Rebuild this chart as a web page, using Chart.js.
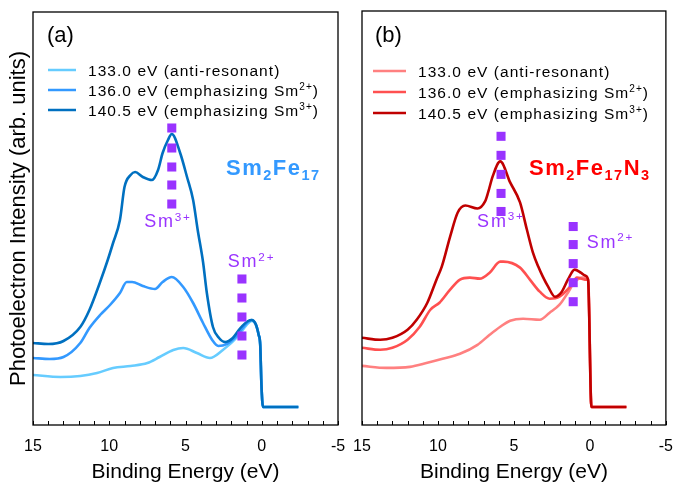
<!DOCTYPE html>
<html>
<head>
<meta charset="utf-8">
<script src="https://cdn.jsdelivr.net/npm/chart.js@4"></script>
<style>
  html, body { margin: 0; padding: 0; background: #fff; }
  #wrap { position: relative; width: 674px; height: 486px; overflow: hidden; }
  canvas { position: absolute; left: 0; top: 0; }
</style>
</head>
<body>
<div id="wrap">
  <canvas id="chartA" width="674" height="486"></canvas>
  <canvas id="chartB" width="685" height="486"></canvas>
</div>
<script>
// x tick labels (binding energy, eV)
const xTickLabels = [15, 10, 5, 0, -5];

// (a) Sm2Fe17 - binding energy (eV) / intensity (arb. units)
const aLightE = [15, 13.2, 11.9, 10.8, 9.75, 8.6, 7.5, 6.7, 5.8, 5.15, 4.25, 3.4, 2.55, 1.6, 1.0, 0.66, 0.4, 0.2, 0.1, 0.02, -0.08, -2.4];
const aLightI = [50, 48, 49, 52, 57, 59, 62, 68, 75, 77, 72, 67, 75, 88, 100, 104, 101, 90, 80, 40, 18, 18];
const aMedE = [15, 13.9, 13, 11.9, 11.3, 10.6, 9.95, 9.3, 8.85, 8.5, 7.8, 7.0, 6.5, 5.9, 5.15, 4.5, 3.85, 3.25, 2.85, 2.3, 1.6, 1.1, 0.66, 0.4, 0.2, 0.1, 0.02, -0.08, -2.4];
const aMedI = [67, 66, 68, 82, 97, 110, 120, 132, 143, 143, 139, 136, 143, 148, 138, 122, 102, 85, 79, 81, 90, 100, 105, 101, 90, 80, 40, 18, 18];
const aDarkE = [15, 14, 13, 11.9, 11.3, 10.6, 10.1, 9.75, 9.3, 9.0, 8.6, 8.3, 7.8, 7.2, 6.8, 6.5, 6.15, 5.9, 5.35, 4.9, 4.5, 4.2, 3.85, 3.6, 3.2, 2.8, 2.4, 1.9, 1.4, 0.9, 0.66, 0.4, 0.2, 0.1, 0.02, -0.08, -2.4];
const aDarkI = [82, 81, 84, 98, 115, 143, 165, 182, 205, 238, 250, 253, 248, 245, 255, 272, 285, 291, 272, 248, 225, 195, 163, 132, 98, 87, 83, 87, 97, 104, 105, 101, 90, 80, 40, 18, 18];
const aSm3E = 5.9;
const aSm3I = [297, 277, 258, 240, 221];
const aSm2E = 1.3;
const aSm2I = [146, 127, 108, 89, 70];

// (b) Sm2Fe17N3
const bLightE = [15, 13.4, 11.85, 10.7, 9.7, 8.55, 7.4, 6.6, 5.9, 5.25, 4.4, 3.3, 2.65, 2.0, 1.45, 1.0, 0.5, 0.12, -0.1, -2.4];
const bLightI = [59, 57, 58, 62, 66, 71, 80, 90, 98, 104, 106, 105, 112, 120, 132, 143, 147, 145, 18, 18];
const bMedE = [15, 13.8, 13, 12, 11.2, 10.5, 9.9, 9.2, 8.55, 7.9, 7.25, 6.6, 5.9, 5.7, 4.6, 3.95, 3.3, 2.65, 2.0, 1.3, 0.85, 0.33, 0.12, -0.1, -2.4];
const bMedI = [77, 75, 77, 85, 98, 115, 122, 135, 145, 147, 146, 152, 163, 163, 157, 145, 133, 126, 128, 138, 147, 145, 145, 18, 18];
const bDarkE = [15, 13.8, 13, 12, 11.4, 10.7, 10.1, 9.75, 9.2, 8.7, 8.2, 7.4, 6.9, 6.7, 6.4, 5.9, 5.25, 4.6, 4.15, 3.75, 3.4, 3.1, 2.75, 2.3, 1.85, 1.45, 1.0, 0.6, 0.3, 0.12, -0.1, -2.4];
const bDarkI = [87, 85, 87, 95, 105, 122, 145, 158, 188, 212, 219, 216, 223, 232, 248, 263, 242, 222, 195, 172, 158, 148, 138, 128, 133, 145, 155, 152, 149, 145, 18, 18];
const bSm3E = 5.85;
const bSm3I = [288, 269, 250, 231, 213];
const bSm2E = 1.1;
const bSm2I = [198, 180, 161, 142, 123];

const seriesLabels = ['133.0 eV (anti-resonant)', '136.0 eV (emphasizing Sm^{2+})', '140.5 eV (emphasizing Sm^{3+})'];

const FONT = '"Liberation Sans", Arial, sans-serif';
const PURPLE = '#9933FF';

// "Sm_{2}Fe_{17}" -> pieces with sub/superscripts
function parseRich(s) {
    const out = [];
    const re = /([_^])\{([^}]*)\}/g;
    let last = 0, m;
    while ((m = re.exec(s))) {
        if (m.index > last) out.push({ t: s.slice(last, m.index), k: '' });
        out.push({ t: m[2], k: m[1] });
        last = re.lastIndex;
    }
    if (last < s.length) out.push({ t: s.slice(last), k: '' });
    return out;
}

function drawRich(ctx, s, x, y, o) {
    const parts = parseRich(s);
    const small = o.size * (o.smallScale || 0.65);
    const weight = o.bold ? 'bold ' : '';
    const fontFor = p => weight + (p.k ? small : o.size) + 'px ' + FONT;
    ctx.save();
    ctx.fillStyle = o.color;
    ctx.textBaseline = 'alphabetic';
    ctx.textAlign = 'left';
    ctx.letterSpacing = (o.spacing || 0) + 'px';
    let w = 0;
    parts.forEach(p => { ctx.font = fontFor(p); w += ctx.measureText(p.t).width; });
    let cx = o.align === 'center' ? x - w / 2 : x;
    parts.forEach(p => {
        ctx.font = fontFor(p);
        const dy = p.k === '^' ? -o.size * 0.36 : p.k === '_' ? o.size * 0.24 : 0;
        ctx.fillText(p.t, cx, y + dy);
        cx += ctx.measureText(p.t).width;
    });
    ctx.restore();
}

const panelPlugin = {
    id: 'panel',
    afterDatasetsDraw(chart, args, opts) {
        const { ctx, chartArea: a, scales: { x, y } } = chart;
        ctx.save();
        ctx.strokeStyle = '#000';
        ctx.lineWidth = 1.3;
        ctx.strokeRect(a.left, a.top, a.right - a.left, a.bottom - a.top);
        // small inward ticks every 1 eV
        ctx.lineWidth = 1;
        for (let v = -5; v <= 15; v++) {
            const px = Math.round(x.getPixelForValue(v)) + 0.5;
            ctx.beginPath();
            ctx.moveTo(px, a.bottom);
            ctx.lineTo(px, a.bottom - 4);
            ctx.stroke();
        }
        ctx.restore();

        drawRich(ctx, opts.letter, a.left + opts.letterDx, a.top + opts.letterDy, { size: 22, color: '#000' });

        // legend inside the frame
        const items = chart.data.datasets.filter(d => d.inLegend);
        items.forEach((d, i) => {
            const lx = a.left + opts.legendDx;
            const ly = a.top + opts.legendDy + i * opts.legendGap;
            ctx.save();
            ctx.strokeStyle = d.borderColor;
            ctx.lineWidth = 2.5;
            ctx.beginPath();
            ctx.moveTo(lx, ly);
            ctx.lineTo(lx + opts.lineLen, ly);
            ctx.stroke();
            ctx.restore();
            drawRich(ctx, d.label, lx + opts.lineLen + 12, ly + 5.5, { size: 15.5, color: '#000', spacing: 1.05 });
        });

        drawRich(ctx, opts.name, a.left + opts.nameDx, a.top + opts.nameDy, { size: 22, bold: true, color: opts.nameColor, spacing: 1.5, smallScale: 0.66 });

        opts.notes.forEach(n => {
            drawRich(ctx, n.text, x.getPixelForValue(n.e), y.getPixelForValue(n.v), { size: 18, color: PURPLE, spacing: 1.8, align: n.align });
        });
    }
};

function line(label, es, is, color, order) {
    return {
        label: label, inLegend: true,
        data: es.map((e, i) => ({ x: e, y: is[i] })),
        borderColor: color, borderWidth: 2.6,
        pointRadius: 0, cubicInterpolationMode: 'monotone',
        fill: false, order: order
    };
}

function marks(e, is) {
    return {
        type: 'scatter',
        data: is.map(v => ({ x: e, y: v })),
        backgroundColor: PURPLE, borderWidth: 0,
        pointStyle: 'rect', pointRadius: 6.4, order: 0
    };
}

function makeChart(id, datasets, panel, showY, padding) {
    return new Chart(document.getElementById(id).getContext('2d'), {
        type: 'line',
        data: { datasets: datasets },
        options: {
            responsive: false,
            animation: false,
            devicePixelRatio: 1,
            layout: { padding: padding, autoPadding: false },
            plugins: { legend: { display: false }, tooltip: { enabled: false }, panel: panel },
            scales: {
                x: {
                    type: 'linear', reverse: true, min: -5, max: 15,
                    afterBuildTicks: s => { s.ticks = xTickLabels.map(v => ({ value: v })); },
                    afterFit: s => { s.height = 61; },
                    ticks: { callback: v => String(v), color: '#000', font: { family: FONT, size: 16 }, padding: 12, maxRotation: 0, autoSkip: false },
                    grid: { display: false, drawTicks: false },
                    border: { display: false },
                    title: { display: true, text: 'Binding Energy (eV)', color: '#000', font: { family: FONT, size: 21 }, padding: { top: 0, bottom: 1 } }
                },
                y: {
                    type: 'linear', min: 0, max: 413, display: showY,
                    afterFit: s => { s.width = showY ? 33 : 0; },
                    ticks: { display: false },
                    grid: { display: false, drawTicks: false },
                    border: { display: false },
                    title: { display: true, text: 'Photoelectron Intensity (arb. units)', color: '#000', font: { family: FONT, size: 22 }, padding: { top: 6, bottom: 0 } }
                }
            }
        },
        plugins: [panelPlugin]
    });
}

makeChart('chartA', [
    line(seriesLabels[0], aLightE, aLightI, '#66CCFF', 3),
    line(seriesLabels[1], aMedE, aMedI, '#3399FF', 2),
    line(seriesLabels[2], aDarkE, aDarkI, '#0070C0', 1),
    marks(aSm3E, aSm3I),
    marks(aSm2E, aSm2I)
], {
    letter: '(a)', letterDx: 14, letterDy: 30,
    legendDx: 15, legendDy: 58, legendGap: 20, lineLen: 28,
    name: 'Sm_{2}Fe_{17}', nameColor: '#3399FF', nameDx: 193, nameDy: 163,
    notes: [
        { text: 'Sm^{3+}', e: 6.15, v: 198, align: 'center' },
        { text: 'Sm^{2+}', e: 0.67, v: 158, align: 'center' }
    ]
}, true, { left: 0, right: 336, top: 12, bottom: 0 });

makeChart('chartB', [
    line(seriesLabels[0], bLightE, bLightI, '#FF8080', 3),
    line(seriesLabels[1], bMedE, bMedI, '#FF5050', 2),
    line(seriesLabels[2], bDarkE, bDarkI, '#C00000', 1),
    marks(bSm3E, bSm3I),
    marks(bSm2E, bSm2I)
], {
    letter: '(b)', letterDx: 13, letterDy: 31,
    legendDx: 11, legendDy: 60, legendGap: 21, lineLen: 33,
    name: 'Sm_{2}Fe_{17}N_{3}', nameColor: '#FF0000', nameDx: 167, nameDy: 164,
    notes: [
        { text: 'Sm^{3+}', e: 5.86, v: 198, align: 'center' },
        { text: 'Sm^{2+}', e: -1.35, v: 177, align: 'center' }
    ]
}, false, { left: 362, right: 0, top: 11, bottom: 0 });
</script>
</body>
</html>
